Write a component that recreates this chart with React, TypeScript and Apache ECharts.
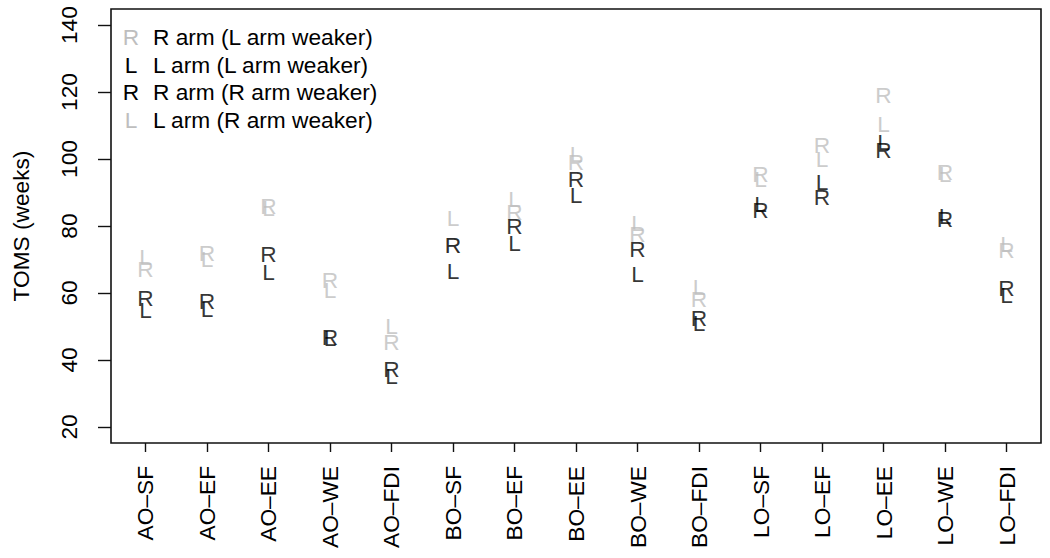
import React, { useEffect, useRef } from "react";
import * as echarts from "echarts";

const categories = [
  "AO–SF", "AO–EF", "AO–EE", "AO–WE", "AO–FDI",
  "BO–SF", "BO–EF", "BO–EE", "BO–WE", "BO–FDI",
  "LO–SF", "LO–EF", "LO–EE", "LO–WE", "LO–FDI",
];
// R arm (L arm weaker) - grey R
const greyR = [67.3, 71.8, 86.0, 63.8, 45.5, 74.2, 84.3, 99.2, 77.5, 58.1, 95.6, 104.3, 119.2, 96.0, 72.7];
// L arm (R arm weaker) - grey L
const greyL = [70.6, 70.0, 85.5, 60.8, 50.0, 82.5, 88.2, 101.6, 81.0, 61.7, 93.9, 100.1, 110.5, 95.5, 74.5];
// L arm (L arm weaker) - black L
const blackL = [54.8, 55.1, 66.2, 46.5, 35.2, 66.5, 74.8, 89.4, 65.6, 51.0, 86.7, 93.0, 105.2, 83.0, 59.3];
// R arm (R arm weaker) - black R
const blackR = [58.4, 57.5, 71.5, 47.0, 37.2, 74.2, 79.9, 93.9, 73.0, 52.5, 84.9, 88.8, 102.8, 82.0, 61.4];

const yTicks = [20, 40, 60, 80, 100, 120, 140];
const xTicks = categories.map((_, i) => i + 1);
const legendLetters = ["R", "L", "R", "L"];
const legendLabels = [
  "R arm (L arm weaker)",
  "L arm (L arm weaker)",
  "R arm (R arm weaker)",
  "L arm (R arm weaker)",
];
const GREY = "#bebebe";
const BLACK = "#000000";
const legendColors = [GREY, BLACK, BLACK, GREY];

const FONT = "'Liberation Sans', Arial, Helvetica, sans-serif";
const FS = 22.7;

function letterSeries(name: string, letter: string, color: string, values: number[]) {
  return {
    type: "scatter",
    name,
    symbolSize: 1,
    itemStyle: { color: "transparent" },
    emphasis: { disabled: true },
    silent: true,
    label: {
      show: true,
      position: "inside",
      formatter: letter,
      color,
      fontSize: FS,
      fontFamily: FONT,
    },
    data: values.map((v, i) => [i + 1, v]),
  };
}

export default function App() {
  const ref = useRef<HTMLDivElement>(null);
  useEffect(() => {
    if (!ref.current) return;
    const chart = echarts.init(ref.current, undefined, { renderer: "svg" });
    const legendGraphics: any[] = [];
    legendLabels.forEach((lab, i) => {
      const y = 37 + i * 27.5;
      legendGraphics.push({
        type: "text",
        x: 131,
        y,
        style: {
          text: legendLetters[i],
          fill: legendColors[i],
          font: `${FS}px ${FONT}`,
          textAlign: "center",
          textVerticalAlign: "middle",
        },
      });
      legendGraphics.push({
        type: "text",
        x: 153,
        y,
        style: {
          text: lab,
          fill: BLACK,
          font: `${FS}px ${FONT}`,
          textAlign: "left",
          textVerticalAlign: "middle",
        },
      });
    });
    chart.setOption({
      animation: false,
      backgroundColor: "#ffffff",
      grid: {
        left: 111,
        right: 9,
        top: 9,
        bottom: 115,
        show: true,
        borderColor: "#111",
        borderWidth: 1.6,
        backgroundColor: "transparent",
      },
      xAxis: {
        type: "value",
        min: 0.44,
        max: 15.56,
        axisLine: { show: false },
        splitLine: { show: false },
        axisTick: {
          show: true,
          inside: false,
          length: 9,
          customValues: xTicks,
          lineStyle: { color: "#111", width: 1.4 },
        },
        axisLabel: {
          show: true,
          customValues: xTicks,
          rotate: 90,
          margin: 23,
          color: BLACK,
          fontSize: FS,
          fontFamily: FONT,
          formatter: (v: number) => categories[Math.round(v) - 1] ?? "",
        },
      },
      yAxis: {
        type: "value",
        min: 15.2,
        max: 144.8,
        name: "TOMS (weeks)",
        nameLocation: "middle",
        nameRotate: 90,
        nameGap: 79,
        nameTextStyle: { color: BLACK, fontSize: FS, fontFamily: FONT },
        axisLine: { show: false },
        splitLine: { show: false },
        axisTick: {
          show: true,
          inside: false,
          length: 13,
          customValues: yTicks,
          lineStyle: { color: "#111", width: 1.4 },
        },
        axisLabel: {
          show: true,
          customValues: yTicks,
          rotate: 90,
          margin: 31,
          color: BLACK,
          fontSize: FS,
          fontFamily: FONT,
        },
      },
      graphic: legendGraphics,
      series: [
        letterSeries(legendLabels[0], "R", GREY, greyR),
        letterSeries(legendLabels[3], "L", GREY, greyL),
        letterSeries(legendLabels[1], "L", BLACK, blackL),
        letterSeries(legendLabels[2], "R", BLACK, blackR),
      ],
    });
    return () => chart.dispose();
  }, []);
  return (
    <div
      ref={ref}
      style={{ position: "absolute", left: 0, top: 0, width: 1050, height: 558 }}
    />
  );
}
